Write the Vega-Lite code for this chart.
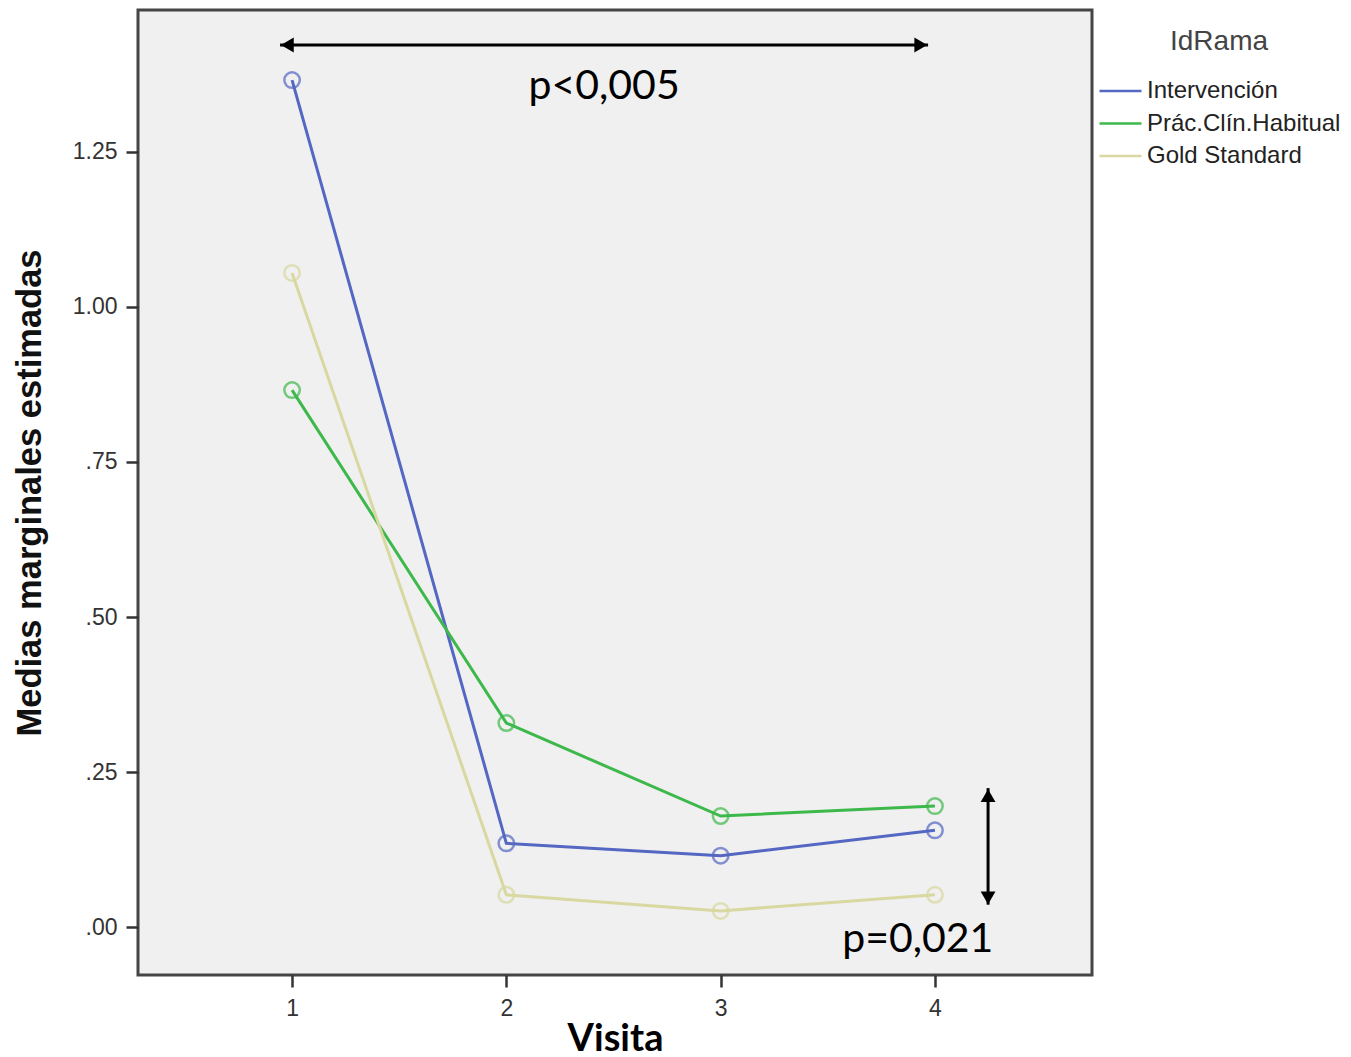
{
  "$schema": "https://vega.github.io/schema/vega-lite/v6.json",
  "width": 954,
  "height": 965,
  "autosize": {"type": "none"},
  "padding": {"left": 138, "top": 10, "right": 259, "bottom": 82},
  "background": "white",
  "config": {
    "view": {"fill": "#f0f0f0", "stroke": "#454545", "strokeWidth": 3},
    "axis": {"grid": false, "domain": false, "labelFont": "Liberation Sans", "labelFontSize": 23, "labelColor": "#333333", "tickColor": "#333333", "tickSize": 12, "tickWidth": 2.5}
  },
  "datasets": {
    "medias": [
      {"visita": 1, "media": 1.366, "idrama": "Intervención"},
      {"visita": 2, "media": 0.135, "idrama": "Intervención"},
      {"visita": 3, "media": 0.115, "idrama": "Intervención"},
      {"visita": 4, "media": 0.156, "idrama": "Intervención"},
      {"visita": 1, "media": 0.866, "idrama": "Prác.Clín.Habitual"},
      {"visita": 2, "media": 0.329, "idrama": "Prác.Clín.Habitual"},
      {"visita": 3, "media": 0.179, "idrama": "Prác.Clín.Habitual"},
      {"visita": 4, "media": 0.195, "idrama": "Prác.Clín.Habitual"},
      {"visita": 1, "media": 1.055, "idrama": "Gold Standard"},
      {"visita": 2, "media": 0.052, "idrama": "Gold Standard"},
      {"visita": 3, "media": 0.026, "idrama": "Gold Standard"},
      {"visita": 4, "media": 0.052, "idrama": "Gold Standard"}
    ],
    "flechas": [
      {"x": 0.944, "x2": 3.968, "y": 1.4226, "y2": 1.4226},
      {"x": 4.248, "x2": 4.248, "y": 0.224, "y2": 0.036}
    ],
    "puntas": [
      {"x": 0.978, "y": 1.4226, "forma": "triangle-left"},
      {"x": 3.934, "y": 1.4226, "forma": "triangle-right"},
      {"x": 4.248, "y": 0.212, "forma": "triangle-up"},
      {"x": 4.248, "y": 0.047, "forma": "triangle-down"}
    ],
    "textos": [
      {"x": 2.456, "y": 1.355, "t": "p<0,005"},
      {"x": 3.92, "y": -0.021, "t": "p=0,021"}
    ]
  },
  "layer": [
    {
      "data": {"name": "medias"},
      "mark": {"type": "line", "strokeWidth": 3},
      "encoding": {
        "x": {"field": "visita", "type": "quantitative", "scale": {"domain": [0.281, 4.733], "nice": false, "zero": false},
          "axis": {"values": [1, 2, 3, 4], "format": "d", "title": "Visita", "titleFont": "Lato", "titleFontWeight": "bold", "titleFontSize": 38, "titleColor": "#000000", "titlePadding": 0, "labelPadding": 10}},
        "y": {"field": "media", "type": "quantitative", "scale": {"domain": [-0.0774, 1.479], "nice": false, "zero": false},
          "axis": {"values": [0, 0.25, 0.5, 0.75, 1, 1.25], "format": ".2f", "labelExpr": "datum.value < 1 ? substring(datum.label, 1) : datum.label", "title": "Medias marginales estimadas", "titleFont": "Liberation Sans", "titleFontWeight": "bold", "titleFontSize": 34.5, "titleColor": "#111111", "titlePadding": 25, "labelPadding": 9}},
        "color": {"field": "idrama", "type": "nominal",
          "scale": {"domain": ["Intervención", "Prác.Clín.Habitual", "Gold Standard"], "range": ["#5467c2", "#3db84a", "#d8d8a0"]},
          "legend": {"title": "IdRama", "orient": "none", "legendX": 960, "legendY": 18, "titleFont": "Liberation Sans", "titleFontSize": 28, "titleFontWeight": "normal", "titleColor": "#444444", "titleAnchor": "middle", "titlePadding": 23, "symbolType": "stroke", "symbolSize": 1764, "symbolStrokeWidth": 2.5, "clipHeight": 24, "labelFont": "Liberation Sans", "labelFontSize": 24, "labelColor": "#222222", "labelOffset": 4, "labelLimit": 400, "rowPadding": 8.5}}
      }
    },
    {
      "data": {"name": "medias"},
      "mark": {"type": "point", "shape": "circle", "filled": false, "size": 240, "strokeWidth": 2.5},
      "encoding": {
        "x": {"field": "visita", "type": "quantitative"},
        "y": {"field": "media", "type": "quantitative"},
        "color": {"field": "idrama", "type": "nominal", "legend": null}
      }
    },
    {
      "data": {"name": "flechas"},
      "mark": {"type": "rule", "color": "#000000", "strokeWidth": 3},
      "encoding": {
        "x": {"field": "x", "type": "quantitative"},
        "x2": {"field": "x2"},
        "y": {"field": "y", "type": "quantitative"},
        "y2": {"field": "y2"}
      }
    },
    {
      "data": {"name": "puntas"},
      "mark": {"type": "point", "filled": true, "color": "#000000", "size": 220, "opacity": 1},
      "encoding": {
        "x": {"field": "x", "type": "quantitative"},
        "y": {"field": "y", "type": "quantitative"},
        "shape": {"field": "forma", "type": "nominal", "scale": null, "legend": null}
      }
    },
    {
      "data": {"name": "textos"},
      "mark": {"type": "text", "font": "Lato", "fontSize": 41, "color": "#000000", "align": "center", "baseline": "middle"},
      "encoding": {
        "x": {"field": "x", "type": "quantitative"},
        "y": {"field": "y", "type": "quantitative"},
        "text": {"field": "t", "type": "nominal"}
      }
    }
  ]
}
